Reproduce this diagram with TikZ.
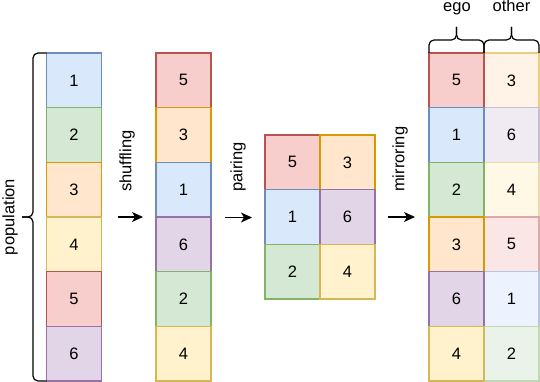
\documentclass[tikz,border=0pt]{standalone}
\usepackage{fontspec}
\setmainfont{Liberation Sans}
\usetikzlibrary{arrows.meta}
\definecolor{blueF}{HTML}{DAE8FC}\definecolor{blueD}{HTML}{6C8EBF}
\definecolor{greenF}{HTML}{D5E8D4}\definecolor{greenD}{HTML}{82B366}
\definecolor{orangeF}{HTML}{FFE6CC}\definecolor{orangeD}{HTML}{D79B00}
\definecolor{yellowF}{HTML}{FFF2CC}\definecolor{yellowD}{HTML}{D6B656}
\definecolor{redF}{HTML}{F8CECC}\definecolor{redD}{HTML}{B85450}
\definecolor{purpleF}{HTML}{E1D5E7}\definecolor{purpleD}{HTML}{9673A6}
\tikzset{
  cell/.style={draw, minimum width=55pt, minimum height=54.67pt, inner sep=0pt, outer sep=0pt, anchor=north west, line width=1.2pt},
  c1/.style={cell, fill=blueF, draw=blueD},
  c2/.style={cell, fill=greenF, draw=greenD},
  c3/.style={cell, fill=orangeF, draw=orangeD},
  c4/.style={cell, fill=yellowF, draw=yellowD},
  c5/.style={cell, fill=redF, draw=redD},
  c6/.style={cell, fill=purpleF, draw=purpleD},
  o1/.style={cell, fill=blueF!50!white, draw=blueD!50!white},
  o2/.style={cell, fill=greenF!50!white, draw=greenD!50!white},
  o3/.style={cell, fill=orangeF!50!white, draw=orangeD!50!white},
  o4/.style={cell, fill=yellowF!50!white, draw=yellowD!50!white},
  o5/.style={cell, fill=redF!50!white, draw=redD!50!white},
  o6/.style={cell, fill=purpleF!50!white, draw=purpleD!50!white},
  arr/.style={line width=1.2pt, -{Stealth[length=11pt, width=10pt, inset=3pt]}},
  brace/.style={line width=1.2pt, rounded corners=5pt},
  lbl/.style={inner sep=0pt, rotate=90},
}
\begin{document}
\begin{tikzpicture}[x=1pt, y=-1pt, font=\fontsize{16.5pt}{20pt}\selectfont]
\useasboundingbox (0,0) rectangle (540,382);
% population
\node[c1] (p1) at (46.5,53) {1};
\node[c2] (p2) at (46.5,107.67) {2};
\node[c3] (p3) at (46.5,162.33) {3};
\node[c4] (p4) at (46.5,217) {4};
\node[c5] (p5) at (46.5,271.67) {5};
\node[c6] (p6) at (46.5,326.33) {6};
% shuffled
\node[c5] (s1) at (156,53) {5};
\node[c3] (s2) at (156,107.67) {3};
\node[c1] (s3) at (156,162.33) {1};
\node[c6] (s4) at (156,217) {6};
\node[c2] (s5) at (156,271.67) {2};
\node[c4] (s6) at (156,326.33) {4};
% pairs
\node[c5] (q11) at (265,135) {5};
\node[c3] (q12) at (320,135) {3};
\node[c1] (q21) at (265,189.67) {1};
\node[c6] (q22) at (320,189.67) {6};
\node[c2] (q31) at (265,244.33) {2};
\node[c4] (q32) at (320,244.33) {4};
% mirrored: other column first
\node[o3] (m12) at (484,53) {3};
\node[o6] (m22) at (484,107.67) {6};
\node[o4] (m32) at (484,162.33) {4};
\node[o5] (m42) at (484,217) {5};
\node[o1] (m52) at (484,271.67) {1};
\node[o2] (m62) at (484,326.33) {2};
\node[c5] (m11) at (429,53) {5};
\node[c1] (m21) at (429,107.67) {1};
\node[c2] (m31) at (429,162.33) {2};
\node[c3] (m41) at (429,217) {3};
\node[c6] (m51) at (429,271.67) {6};
\node[c4] (m61) at (429,326.33) {4};
% labels
\node[lbl] (lpop) at (10,217) {population};
\node[lbl, anchor=west] (lshuf) at (127,192) {shuffling};
\node[lbl, anchor=west] (lpair) at (238,192) {pairing};
\node[lbl, anchor=west] (lmir) at (400,192) {mirroring};
\node[inner sep=0pt, anchor=base] (lego) at (457,12) {ego};
\node[inner sep=0pt, anchor=base] (loth) at (511.5,12) {other};
% arrows
\coordinate (a1s) at (118,217); \coordinate (a1e) at (143,217);
\coordinate (a2s) at (225,217.5); \coordinate (a2e) at (252,217.5);
\coordinate (a3s) at (388,217); \coordinate (a3e) at (415,217);
\draw[arr] (a1s) -- (a1e);
\draw[arr] (a2s) -- (a2e);
\draw[arr] (a3s) -- (a3e);
% braces
\draw[brace] (p1.north west) -- (33,53) -- (33,217) -- (22,217);
\draw[brace] (p6.south west) -- (33,381) -- (33,217) -- (22,217);
\draw[brace] (m11.north west) -- (429,40) -- (456.5,40) -- (456.5,27);
\draw[brace] (m11.north east) -- (484,40) -- (456.5,40) -- (456.5,27);
\draw[brace] (m12.north west) -- (484,40) -- (511.5,40) -- (511.5,27);
\draw[brace] (m12.north east) -- (539,40) -- (511.5,40) -- (511.5,27);
\end{tikzpicture}
\end{document}
